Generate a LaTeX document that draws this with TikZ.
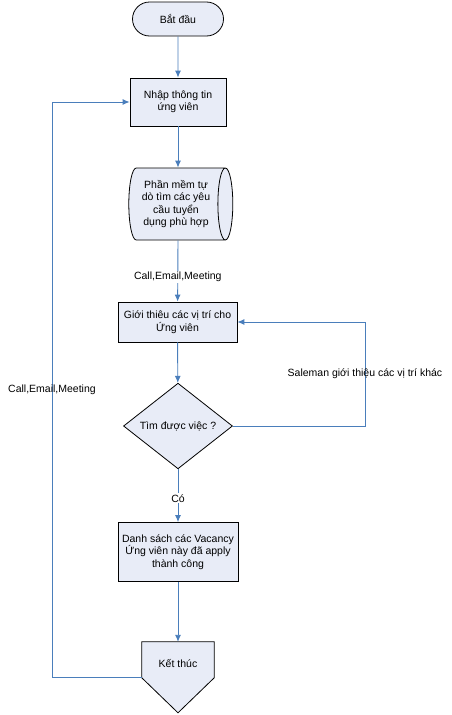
\documentclass[tikz,border=0pt]{standalone}
\usepackage{fontspec}
\setmainfont{Liberation Sans}
\usetikzlibrary{shapes.geometric,shapes.misc,backgrounds,arrows.meta}
\definecolor{boxfill}{RGB}{232,236,247}
\definecolor{flowblue}{RGB}{74,126,187}
\tikzset{
  every node/.style={font=\fontsize{10.5}{12.5}\selectfont, align=center},
  box/.style={draw, line width=0.8pt, fill=boxfill, inner sep=2pt},
  flow/.style={draw=flowblue, line width=0.9pt, -{Latex[length=7pt,width=6pt]}},
  lbl/.style={fill=white, inner sep=1pt},
  side/.style={inner sep=1pt}
}
\begin{document}
\begin{tikzpicture}[x=1pt, y=-1pt]
    \useasboundingbox (0,0) rectangle (451,715);
    % nodes of the flow
    \node[box, rounded rectangle, minimum width=95pt, minimum height=34pt] (batdau) at (178,19) {Bắt đầu};
    \node[box, minimum width=96pt, minimum height=48pt] (nhap) at (178,102) {Nhập thông tin\\ứng viên};
    \node[box, cylinder, aspect=0.3, minimum width=72pt, minimum height=104pt, inner sep=1pt] (phanmem) at (176,204) {Phần mềm tự\\dò tìm các yêu\\cầu tuyển\\dụng phù hợp};
    \node[box, minimum width=119pt, minimum height=40pt] (gioithieu) at (177.5,322) {Giới thiêu các vị trí cho\\Ứng viên};
    \node[box, diamond, minimum width=109pt, minimum height=82pt, inner sep=0pt] (timviec) at (178,426) {Tìm được việc ?};
    \node[box, minimum width=120pt, minimum height=59pt] (danhsach) at (178,552) {Danh sách các Vacancy\\Ứng viên này đã apply\\thành công};
    \node[minimum width=72pt, minimum height=44pt] (ketthuc) at (178,664) {Kết thúc};
    \begin{scope}[on background layer]
      \filldraw[fill=boxfill, line width=0.8pt] (ketthuc.north west) -- (ketthuc.north east)
        -- ([yshift=-36pt]ketthuc.north east) -- ([yshift=-71pt]ketthuc.north)
        -- ([yshift=-36pt]ketthuc.north west) -- cycle;
    \end{scope}
    % turning points of the two loops
    \coordinate (trai) at (52,0);
    \coordinate (phai) at (365,0);
    \coordinate (goc) at ([yshift=-36pt]ketthuc.north west);
    % connectors
    \draw[flow] (batdau) -- (nhap);
    \draw[flow] (nhap) -- (phanmem.north -| nhap);
    \draw[flow] (phanmem.south -| nhap) -- node[lbl, pos=0.6] {Call,Email,Meeting} (gioithieu);
    \draw[flow] (gioithieu) -- (timviec);
    \draw[flow] (timviec) -- node[lbl, pos=0.55] {Có} (danhsach);
    \draw[flow] (danhsach) -- (ketthuc);
    \draw[flow] (timviec.east) -- (timviec.east -| phai)
        -- node[side] {Saleman giới thiệu các vị trí khác} (gioithieu.east -| phai) -- (gioithieu.east);
    \draw[flow] (goc) -- (goc -| trai)
        -- node[side] {Call,Email,Meeting} (nhap.west -| trai) -- (nhap.west);
\end{tikzpicture}
\end{document}
